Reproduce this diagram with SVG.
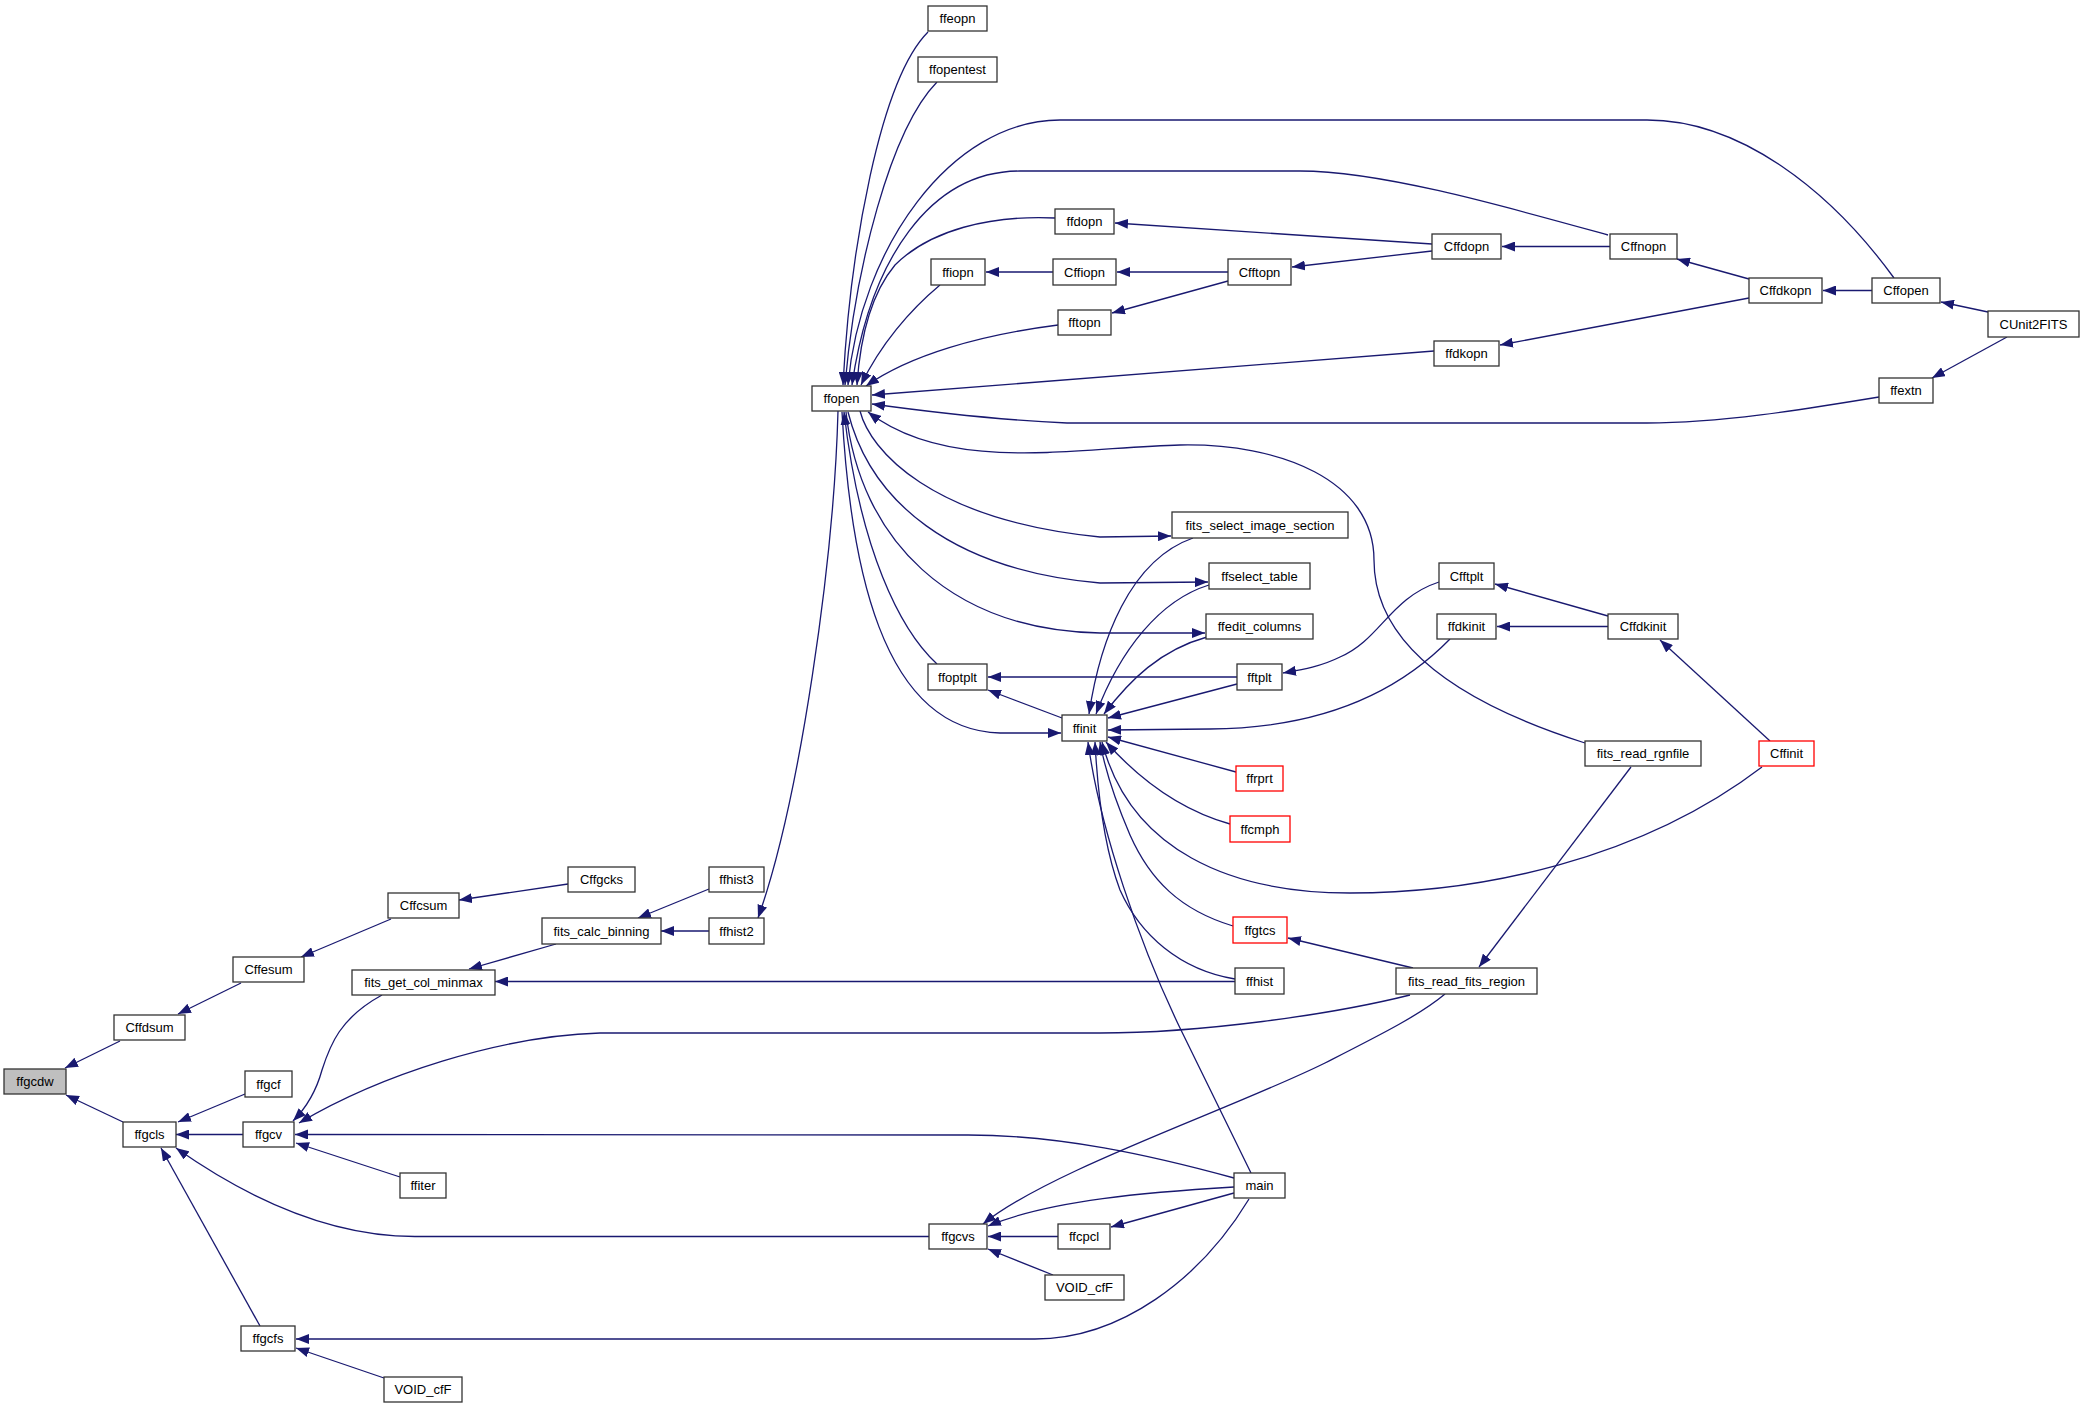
<svg xmlns="http://www.w3.org/2000/svg" width="2084" height="1405" viewBox="0 0 2084 1405">
<style>
.node rect{fill:#fff;stroke:#333;stroke-width:1.3}
.node.red rect{stroke:#ff0000}
.node.hl rect{fill:#bfbfbf}
text{font-family:"Liberation Sans",Arial,sans-serif;font-size:13px;text-anchor:middle;fill:#000}
.edge{fill:none;stroke:#191970;stroke-width:1.3;marker-end:url(#ah)}
</style>
<defs>
<marker id="ah" markerUnits="userSpaceOnUse" markerWidth="14" markerHeight="10" refX="13" refY="5" orient="auto"><path d="M0,0 L13,5 L0,10 Z" fill="#191970"/></marker>
</defs>
<rect width="2084" height="1405" fill="#fff"/>
<g id="connectors">
<path class="edge" d="M120,1041 L65,1068"/>
<path class="edge" d="M123,1122 L66,1095"/>
<path class="edge" d="M241,983 L178,1014"/>
<path class="edge" d="M391,919 L301,957"/>
<path class="edge" d="M568,884 L459,900"/>
<path class="edge" d="M556,944 L469,969"/>
<path class="edge" d="M709,889 L638,918"/>
<path class="edge" d="M709,931 L661,931"/>
<path class="edge" d="M838,411 C834,560 800,800 758,918"/>
<path class="edge" d="M1235,981.5 L495,981.5"/>
<path class="edge" d="M245,1094 L178,1122"/>
<path class="edge" d="M243,1134.5 L176,1134.5"/>
<path class="edge" d="M929,1236.5 L415,1236.5 C330,1236.5 250,1200 176,1148"/>
<path class="edge" d="M260,1326 L161,1148"/>
<path class="edge" d="M382,995 C340,1018 330,1045 322,1070 C316,1092 306,1108 293,1121"/>
<path class="edge" d="M1410,995 C1330,1015 1200,1033 1100,1033 L600,1033 C500,1036 380,1075 299,1123"/>
<path class="edge" d="M1234,1178 C1150,1155 1060,1135 968,1135 L295,1134.5"/>
<path class="edge" d="M400,1177 L296,1143"/>
<path class="edge" d="M1249,1199 C1200,1280 1120,1339 1035,1339 L296,1339"/>
<path class="edge" d="M384,1378 L296,1348"/>
<path class="edge" d="M1445,994 C1420,1015 1380,1035 1325,1063 C1230,1110 1050,1170 983,1224"/>
<path class="edge" d="M1234,1187 C1150,1192 1050,1200 988,1226"/>
<path class="edge" d="M1058,1236.5 L988,1236.5"/>
<path class="edge" d="M1053,1275 L988,1249"/>
<path class="edge" d="M1234,1193 L1111,1227"/>
<path class="edge" d="M1251,1173 L1180,1028 C1140,945 1100,830 1088,742"/>
<path class="edge" d="M1235,979 C1180,970 1140,935 1120,890 C1105,850 1098,800 1095,742"/>
<path class="edge" d="M1233,926 C1180,910 1150,880 1130,835 C1115,800 1105,770 1100,742"/>
<path class="edge" d="M1762,767 C1640,860 1480,893 1350,893 C1230,893 1130,850 1102,742"/>
<path class="edge" d="M1230,824 C1180,810 1140,780 1106,742"/>
<path class="edge" d="M1236,772 L1108,737"/>
<path class="edge" d="M1450,639 C1410,680 1340,728 1210,729 L1108,730"/>
<path class="edge" d="M1237,684 L1108,718"/>
<path class="edge" d="M1207,637 C1160,650 1130,680 1104,714"/>
<path class="edge" d="M1209,585 C1160,600 1120,650 1096,714"/>
<path class="edge" d="M1193,538 C1130,560 1100,640 1089,714"/>
<path class="edge" d="M860,411 C870,450 930,520 1100,537 L1171,536"/>
<path class="edge" d="M848,412 C870,500 950,570 1100,583 L1208,582"/>
<path class="edge" d="M846,412 C860,540 950,630 1100,633 L1205,633"/>
<path class="edge" d="M842,412 C850,560 880,730 1000,733 L1061,733"/>
<path class="edge" d="M937,664 C900,630 860,550 844,412"/>
<path class="edge" d="M1237,677 L988,677"/>
<path class="edge" d="M1062,718 L988,690"/>
<path class="edge" d="M1439,582 C1390,598 1380,640 1340,657 C1320,667 1300,670 1283,673"/>
<path class="edge" d="M1608,616 L1495,584"/>
<path class="edge" d="M1608,626.5 L1497,626.5"/>
<path class="edge" d="M1770,741 L1660,640"/>
<path class="edge" d="M1585,743 C1450,700 1374,640 1374,560 C1374,480 1280,443 1180,445 C1080,447 950,475 868,412"/>
<path class="edge" d="M1631,767 L1479,967"/>
<path class="edge" d="M1413,968 L1288,938"/>
<path class="edge" d="M928,32 C880,80 850,250 843,385"/>
<path class="edge" d="M937,82 C890,130 855,270 845,385"/>
<path class="edge" d="M1894,278 C1830,190 1740,120 1647,120 L1060,120 C950,120 860,250 848,385"/>
<path class="edge" d="M1608,235 C1500,205 1380,171 1300,171 L1020,171 C930,171 870,260 852,385"/>
<path class="edge" d="M1055,218 C990,215 930,230 895,265 C870,295 860,340 857,385"/>
<path class="edge" d="M940,285 C910,310 880,345 861,385"/>
<path class="edge" d="M1058,325 C980,335 910,355 866,386"/>
<path class="edge" d="M1434,351 L872,395"/>
<path class="edge" d="M1879,397 C1800,410 1720,423 1647,423 L1067,423 C1000,420 930,412 872,404"/>
<path class="edge" d="M1432,244 L1115,223"/>
<path class="edge" d="M1432,251 L1292,267"/>
<path class="edge" d="M1053,272 L986,272"/>
<path class="edge" d="M1228,272 L1117,272"/>
<path class="edge" d="M1228,281 L1112,313"/>
<path class="edge" d="M1610,246.5 L1502,246.5"/>
<path class="edge" d="M1749,279 L1677,259"/>
<path class="edge" d="M1749,298 L1500,345"/>
<path class="edge" d="M1872,290.5 L1823,290.5"/>
<path class="edge" d="M1988,312 L1941,302"/>
<path class="edge" d="M2007,337 L1932,378"/>
</g>
<g id="node-ffgcdw" class="node hl"><rect x="4" y="1069" width="62" height="25"/><text x="35" y="1086">ffgcdw</text></g>
<g id="node-Cffdsum" class="node"><rect x="114" y="1015" width="71" height="25"/><text x="149.5" y="1032">Cffdsum</text></g>
<g id="node-Cffesum" class="node"><rect x="233" y="957" width="71" height="25"/><text x="268.5" y="974">Cffesum</text></g>
<g id="node-Cffcsum" class="node"><rect x="388" y="893" width="71" height="25"/><text x="423.5" y="910">Cffcsum</text></g>
<g id="node-Cffgcks" class="node"><rect x="568" y="867" width="67" height="25"/><text x="601.5" y="884">Cffgcks</text></g>
<g id="node-fits_calc_binning" class="node"><rect x="542" y="918" width="119" height="26"/><text x="601.5" y="935.5">fits_calc_binning</text></g>
<g id="node-fits_get_col_minmax" class="node"><rect x="352" y="970" width="143" height="25"/><text x="423.5" y="987">fits_get_col_minmax</text></g>
<g id="node-ffhist3" class="node"><rect x="709" y="867" width="55" height="25"/><text x="736.5" y="884">ffhist3</text></g>
<g id="node-ffhist2" class="node"><rect x="709" y="918" width="55" height="26"/><text x="736.5" y="935.5">ffhist2</text></g>
<g id="node-ffgcls" class="node"><rect x="123" y="1122" width="53" height="25"/><text x="149.5" y="1139">ffgcls</text></g>
<g id="node-ffgcf" class="node"><rect x="245" y="1071" width="47" height="26"/><text x="268.5" y="1088.5">ffgcf</text></g>
<g id="node-ffgcv" class="node"><rect x="243" y="1122" width="51" height="25"/><text x="268.5" y="1139">ffgcv</text></g>
<g id="node-ffiter" class="node"><rect x="400" y="1173" width="46" height="25"/><text x="423" y="1190">ffiter</text></g>
<g id="node-ffgcfs" class="node"><rect x="241" y="1326" width="54" height="25"/><text x="268" y="1343">ffgcfs</text></g>
<g id="node-VOID_cfF_1" class="node"><rect x="384" y="1377" width="78" height="25"/><text x="423" y="1394">VOID_cfF</text></g>
<g id="node-ffgcvs" class="node"><rect x="929" y="1224" width="58" height="25"/><text x="958" y="1241">ffgcvs</text></g>
<g id="node-ffcpcl" class="node"><rect x="1058" y="1224" width="52" height="25"/><text x="1084" y="1241">ffcpcl</text></g>
<g id="node-VOID_cfF_2" class="node"><rect x="1045" y="1275" width="79" height="25"/><text x="1084.5" y="1292">VOID_cfF</text></g>
<g id="node-main" class="node"><rect x="1234" y="1173" width="51" height="25"/><text x="1259.5" y="1190">main</text></g>
<g id="node-ffhist" class="node"><rect x="1235" y="968" width="49" height="26"/><text x="1259.5" y="985.5">ffhist</text></g>
<g id="node-ffgtcs" class="node red"><rect x="1233" y="917" width="54" height="26"/><text x="1260" y="934.5">ffgtcs</text></g>
<g id="node-ffcmph" class="node red"><rect x="1230" y="816" width="60" height="26"/><text x="1260" y="833.5">ffcmph</text></g>
<g id="node-ffrprt" class="node red"><rect x="1236" y="766" width="47" height="25"/><text x="1259.5" y="783">ffrprt</text></g>
<g id="node-ffinit" class="node"><rect x="1062" y="715" width="45" height="26"/><text x="1084.5" y="732.5">ffinit</text></g>
<g id="node-ffoptplt" class="node"><rect x="928" y="664" width="59" height="26"/><text x="957.5" y="681.5">ffoptplt</text></g>
<g id="node-fftplt" class="node"><rect x="1237" y="664" width="45" height="26"/><text x="1259.5" y="681.5">fftplt</text></g>
<g id="node-ffedit_columns" class="node"><rect x="1206" y="614" width="107" height="25"/><text x="1259.5" y="631">ffedit_columns</text></g>
<g id="node-ffselect_table" class="node"><rect x="1209" y="563" width="101" height="26"/><text x="1259.5" y="580.5">ffselect_table</text></g>
<g id="node-fits_select_image_section" class="node"><rect x="1172" y="512" width="176" height="26"/><text x="1260" y="529.5">fits_select_image_section</text></g>
<g id="node-ffopen" class="node"><rect x="812" y="386" width="59" height="25"/><text x="841.5" y="403">ffopen</text></g>
<g id="node-fftopn" class="node"><rect x="1058" y="310" width="53" height="25"/><text x="1084.5" y="327">fftopn</text></g>
<g id="node-ffiopn" class="node"><rect x="931" y="259" width="54" height="26"/><text x="958" y="276.5">ffiopn</text></g>
<g id="node-Cffiopn" class="node"><rect x="1053" y="259" width="63" height="26"/><text x="1084.5" y="276.5">Cffiopn</text></g>
<g id="node-ffdopn" class="node"><rect x="1055" y="209" width="59" height="25"/><text x="1084.5" y="226">ffdopn</text></g>
<g id="node-Cfftopn" class="node"><rect x="1228" y="259" width="63" height="26"/><text x="1259.5" y="276.5">Cfftopn</text></g>
<g id="node-Cffdopn" class="node"><rect x="1432" y="234" width="69" height="25"/><text x="1466.5" y="251">Cffdopn</text></g>
<g id="node-Cffnopn" class="node"><rect x="1610" y="234" width="67" height="25"/><text x="1643.5" y="251">Cffnopn</text></g>
<g id="node-Cffdkopn" class="node"><rect x="1749" y="278" width="73" height="25"/><text x="1785.5" y="295">Cffdkopn</text></g>
<g id="node-Cffopen" class="node"><rect x="1872" y="278" width="68" height="25"/><text x="1906" y="295">Cffopen</text></g>
<g id="node-CUnit2FITS" class="node"><rect x="1988" y="311" width="91" height="26"/><text x="2033.5" y="328.5">CUnit2FITS</text></g>
<g id="node-ffextn" class="node"><rect x="1879" y="378" width="54" height="25"/><text x="1906" y="395">ffextn</text></g>
<g id="node-ffdkopn" class="node"><rect x="1434" y="341" width="65" height="25"/><text x="1466.5" y="358">ffdkopn</text></g>
<g id="node-ffeopn" class="node"><rect x="928" y="6" width="59" height="25"/><text x="957.5" y="23">ffeopn</text></g>
<g id="node-ffopentest" class="node"><rect x="918" y="57" width="79" height="25"/><text x="957.5" y="74">ffopentest</text></g>
<g id="node-Cfftplt" class="node"><rect x="1439" y="563" width="55" height="26"/><text x="1466.5" y="580.5">Cfftplt</text></g>
<g id="node-ffdkinit" class="node"><rect x="1437" y="614" width="59" height="25"/><text x="1466.5" y="631">ffdkinit</text></g>
<g id="node-Cffdkinit" class="node"><rect x="1608" y="614" width="70" height="25"/><text x="1643" y="631">Cffdkinit</text></g>
<g id="node-fits_read_rgnfile" class="node"><rect x="1585" y="741" width="116" height="25"/><text x="1643" y="758">fits_read_rgnfile</text></g>
<g id="node-Cffinit" class="node red"><rect x="1759" y="741" width="55" height="25"/><text x="1786.5" y="758">Cffinit</text></g>
<g id="node-fits_read_fits_region" class="node"><rect x="1396" y="968" width="141" height="26"/><text x="1466.5" y="985.5">fits_read_fits_region</text></g>
</svg>
